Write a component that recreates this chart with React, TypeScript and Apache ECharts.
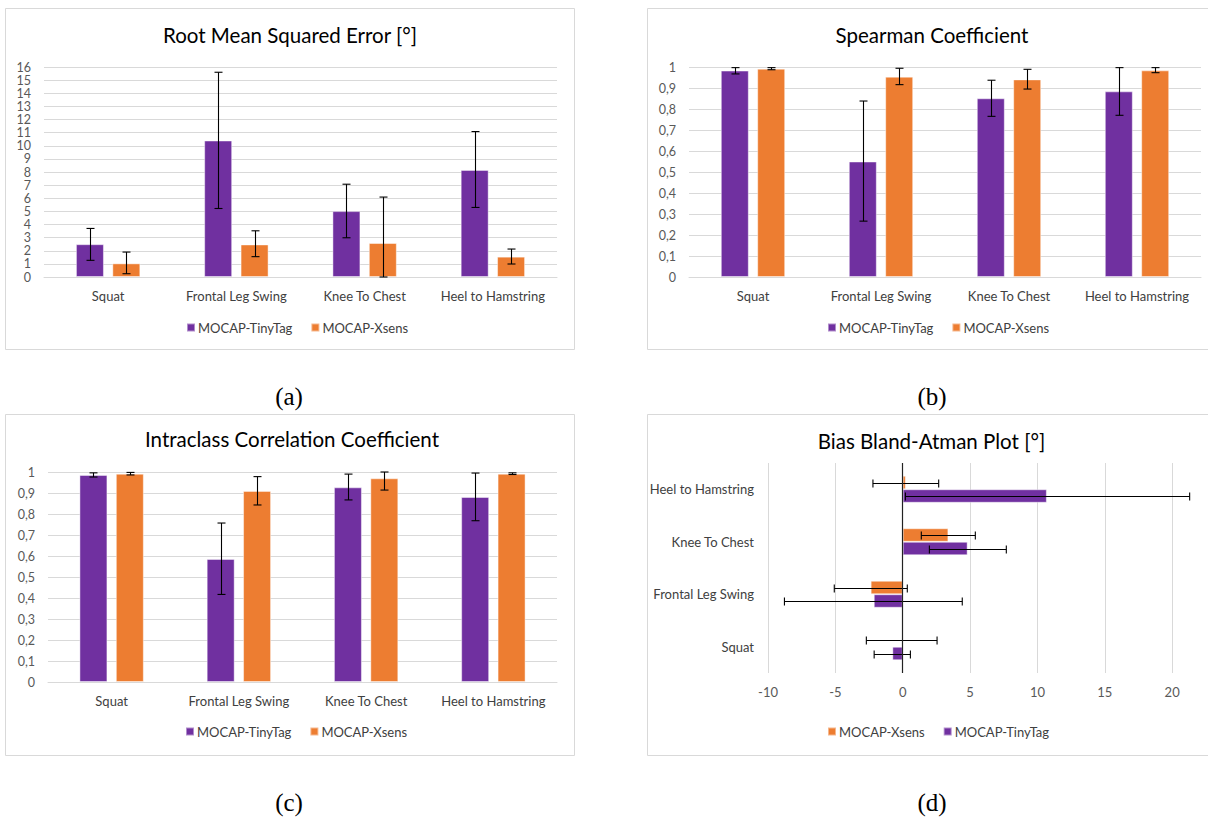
import React, { useEffect, useRef } from "react";
import * as echarts from "echarts";

const CATEGORIES = ["Squat", "Frontal Leg Swing", "Knee To Chest", "Heel to Hamstring"];
const SERIES_TINY = "MOCAP-TinyTag";
const SERIES_XSENS = "MOCAP-Xsens";

// (a) Root Mean Squared Error
const RMSE_TINY = [2.5, 10.4, 5.02, 8.16];
const RMSE_TINY_LOW = [1.27, 5.22, 2.99, 5.3];
const RMSE_TINY_HIGH = [3.7, 15.6, 7.07, 11.08];
const RMSE_XSENS = [1.04, 2.48, 2.59, 1.55];
const RMSE_XSENS_LOW = [0.25, 1.55, 0, 0.99];
const RMSE_XSENS_HIGH = [1.9, 3.52, 6.09, 2.13];

// (b) Spearman Coefficient
const SP_TINY = [0.983, 0.55, 0.851, 0.884];
const SP_TINY_LOW = [0.967, 0.266, 0.765, 0.77];
const SP_TINY_HIGH = [0.997, 0.838, 0.937, 0.997];
const SP_XSENS = [0.992, 0.954, 0.941, 0.984];
const SP_XSENS_LOW = [0.987, 0.916, 0.895, 0.973];
const SP_XSENS_HIGH = [0.997, 0.994, 0.989, 0.997];

// (c) Intraclass Correlation Coefficient
const ICC_TINY = [0.986, 0.586, 0.927, 0.881];
const ICC_TINY_LOW = [0.976, 0.417, 0.867, 0.768];
const ICC_TINY_HIGH = [0.996, 0.757, 0.99, 0.995];
const ICC_XSENS = [0.992, 0.91, 0.97, 0.992];
const ICC_XSENS_LOW = [0.986, 0.843, 0.914, 0.988];
const ICC_XSENS_HIGH = [0.998, 0.978, 1.0, 0.996];

// (d) Bias Bland-Altman
const BA_XSENS = [-0.09, -2.38, 3.39, 0.23];
const BA_XSENS_LOW = [-2.7, -5.08, 1.38, -2.21];
const BA_XSENS_HIGH = [2.55, 0.34, 5.39, 2.67];
const BA_TINY = [-0.77, -2.15, 4.82, 10.7];
const BA_TINY_LOW = [-2.12, -8.78, 1.98, 0.2];
const BA_TINY_HIGH = [0.57, 4.42, 7.69, 21.3];

const TITLES = [
  "Root Mean Squared Error [°]",
  "Spearman Coefficient",
  "Intraclass Correlation Coefficient",
  "Bias Bland-Atman Plot [°]",
];
const CAPTIONS = ["(a)", "(b)", "(c)", "(d)"];

const FONT = 'Lato, "Open Sans", sans-serif';
const SERIF = '"Liberation Serif", "DejaVu Serif", serif';
const PURPLE = "#7030A0";
const ORANGE = "#ED7D31";
const GRID_C = "#D9D9D9";
const LABEL_C = "#595959";
const CAT_C = "#404040";
const BAR_EDGE = "rgba(255,255,255,0.45)";

const BAR_W = 28;
const BAR_OFF = 18.2;
const HBAR_W = 13.5;
const HBAR_OFF = 6.75;

function vErr(idx: number, lows: number[], highs: number[], offset: number) {
  return {
    type: "custom",
    xAxisIndex: idx,
    yAxisIndex: idx,
    z: 10,
    silent: true,
    data: lows.map((l, i) => [i, l, highs[i]]),
    encode: { x: 0, y: [1, 2] },
    renderItem: (_p: any, api: any) => {
      const c = api.value(0);
      const a = api.coord([c, api.value(1)]);
      const b = api.coord([c, api.value(2)]);
      const x = Math.round(a[0] + offset) + 0.5;
      const st = { stroke: "#000", lineWidth: 1.1 };
      return {
        type: "group",
        children: [
          { type: "line", shape: { x1: x, y1: a[1], x2: x, y2: b[1] }, style: st },
          { type: "line", shape: { x1: x - 4, y1: a[1], x2: x + 4, y2: a[1] }, style: st },
          { type: "line", shape: { x1: x - 4, y1: b[1], x2: x + 4, y2: b[1] }, style: st },
        ],
      };
    },
  };
}

function hErr(idx: number, lows: number[], highs: number[], offset: number) {
  return {
    type: "custom",
    xAxisIndex: idx,
    yAxisIndex: idx,
    z: 10,
    silent: true,
    data: lows.map((l, i) => [i, l, highs[i]]),
    encode: { y: 0, x: [1, 2] },
    renderItem: (_p: any, api: any) => {
      const c = api.value(0);
      const a = api.coord([api.value(1), c]);
      const b = api.coord([api.value(2), c]);
      const y = Math.round(a[1] + offset) + 0.5;
      const st = { stroke: "#000", lineWidth: 1.1 };
      return {
        type: "group",
        children: [
          { type: "line", shape: { x1: a[0], y1: y, x2: b[0], y2: y }, style: st },
          { type: "line", shape: { x1: a[0], y1: y - 4, x2: a[0], y2: y + 4 }, style: st },
          { type: "line", shape: { x1: b[0], y1: y - 4, x2: b[0], y2: y + 4 }, style: st },
        ],
      };
    },
  };
}

const commaFmt = (v: number) => String(Math.round(v * 10) / 10).replace(".", ",");

function catX(idx: number) {
  return {
    gridIndex: idx,
    type: "category",
    data: CATEGORIES,
    axisTick: { show: false },
    axisLine: { lineStyle: { color: GRID_C } },
    axisLabel: { color: CAT_C, fontSize: 13, margin: 12, interval: 0, fontFamily: FONT },
  };
}

function valY(idx: number, max: number, interval: number, fmt?: any) {
  return {
    gridIndex: idx,
    type: "value",
    min: 0,
    max,
    interval,
    axisLine: { show: false },
    axisTick: { show: false },
    splitLine: { lineStyle: { color: GRID_C, width: 1 } },
    axisLabel: { color: LABEL_C, fontSize: 12.5, margin: 13, fontFamily: FONT, formatter: fmt },
  };
}

function vBar(idx: number, name: string, data: number[], color: string) {
  return {
    type: "bar",
    name,
    xAxisIndex: idx,
    yAxisIndex: idx,
    data,
    barWidth: BAR_W,
    barGap: "30%",
    itemStyle: { color, borderColor: BAR_EDGE, borderWidth: 1 },
  };
}

function legend(left: number, top: number, data: string[]) {
  return {
    left,
    top,
    padding: 0,
    itemWidth: 8,
    itemHeight: 8,
    itemGap: 18,
    icon: "rect",
    selectedMode: false,
    data,
    textStyle: { color: CAT_C, fontSize: 13, fontFamily: FONT, padding: [0, 0, 0, -2] },
  };
}

export default function App() {
  const ref = useRef<HTMLDivElement>(null);
  useEffect(() => {
    if (!ref.current) return;
    const chart = echarts.init(ref.current, undefined, { renderer: "svg" });
    const boxes = [
      [5.5, 8.5],
      [647.5, 8.5],
      [5.5, 414.5],
      [647.5, 414.5],
    ];
    const titlePos = [
      [290, 35],
      [932, 35],
      [292, 439],
      [931.5, 441],
    ];
    const capPos = [
      [289, 396],
      [932, 396],
      [289, 802],
      [932, 802],
    ];
    const graphic: any[] = [];
    boxes.forEach((b) =>
      graphic.push({
        type: "rect",
        shape: { x: b[0], y: b[1], width: 569, height: 341 },
        style: { fill: "none", stroke: GRID_C, lineWidth: 1 },
        silent: true,
        z: -10,
      })
    );
    TITLES.forEach((t, i) =>
      graphic.push({
        type: "text",
        x: titlePos[i][0],
        y: titlePos[i][1],
        style: {
          text: t,
          align: "center",
          verticalAlign: "middle",
          fontSize: 20.5,
          fontFamily: FONT,
          fill: "#000",
        },
      })
    );
    CAPTIONS.forEach((t, i) =>
      graphic.push({
        type: "text",
        x: capPos[i][0],
        y: capPos[i][1],
        style: {
          text: t,
          align: "center",
          verticalAlign: "middle",
          fontSize: 25,
          fontFamily: SERIF,
          fill: "#000",
        },
      })
    );

    const option: any = {
      animation: false,
      textStyle: { fontFamily: FONT },
      graphic,
      grid: [
        { left: 44, top: 67, width: 513, height: 210 },
        { left: 689, top: 67, width: 512, height: 210 },
        { left: 48, top: 472, width: 509, height: 210 },
        { left: 768, top: 463, width: 471.5, height: 210 },
      ],
      xAxis: [
        catX(0),
        catX(1),
        catX(2),
        {
          gridIndex: 3,
          type: "value",
          min: -10,
          max: 25,
          interval: 5,
          axisLine: { show: false },
          axisTick: { show: false },
          splitLine: { lineStyle: { color: GRID_C, width: 1 } },
          axisLabel: {
            color: LABEL_C,
            fontSize: 13,
            margin: 12,
            fontFamily: FONT,
            showMaxLabel: false,
          },
        },
      ],
      yAxis: [
        valY(0, 16, 1),
        valY(1, 1, 0.1, commaFmt),
        valY(2, 1, 0.1, commaFmt),
        {
          gridIndex: 3,
          type: "category",
          data: CATEGORIES,
          axisTick: { show: false },
          axisLine: { show: false },
          axisLabel: { color: CAT_C, fontSize: 13, margin: 14, interval: 0, fontFamily: FONT },
        },
      ],
      legend: [
        legend(186, 321, [SERIES_TINY, SERIES_XSENS]),
        legend(827, 321, [SERIES_TINY, SERIES_XSENS]),
        legend(185, 725, [SERIES_TINY, SERIES_XSENS]),
        legend(827, 725, [SERIES_XSENS, SERIES_TINY]),
      ],
      series: [
        vBar(0, SERIES_TINY, RMSE_TINY, PURPLE),
        vBar(0, SERIES_XSENS, RMSE_XSENS, ORANGE),
        vErr(0, RMSE_TINY_LOW, RMSE_TINY_HIGH, -BAR_OFF),
        vErr(0, RMSE_XSENS_LOW, RMSE_XSENS_HIGH, BAR_OFF),

        vBar(1, SERIES_TINY, SP_TINY, PURPLE),
        vBar(1, SERIES_XSENS, SP_XSENS, ORANGE),
        vErr(1, SP_TINY_LOW, SP_TINY_HIGH, -BAR_OFF),
        vErr(1, SP_XSENS_LOW, SP_XSENS_HIGH, BAR_OFF),

        vBar(2, SERIES_TINY, ICC_TINY, PURPLE),
        vBar(2, SERIES_XSENS, ICC_XSENS, ORANGE),
        vErr(2, ICC_TINY_LOW, ICC_TINY_HIGH, -BAR_OFF),
        vErr(2, ICC_XSENS_LOW, ICC_XSENS_HIGH, BAR_OFF),

        {
          type: "bar",
          name: SERIES_XSENS,
          xAxisIndex: 3,
          yAxisIndex: 3,
          data: BA_XSENS,
          barWidth: HBAR_W,
          barGap: "0%",
          itemStyle: { color: ORANGE, borderColor: BAR_EDGE, borderWidth: 1 },
          markLine: {
            silent: true,
            symbol: "none",
            label: { show: false },
            lineStyle: { color: "#222", type: "solid", width: 1.2 },
            data: [{ xAxis: 0 }],
            z: 12,
          },
        },
        {
          type: "bar",
          name: SERIES_TINY,
          xAxisIndex: 3,
          yAxisIndex: 3,
          data: BA_TINY,
          barWidth: HBAR_W,
          barGap: "0%",
          itemStyle: { color: PURPLE, borderColor: BAR_EDGE, borderWidth: 1 },
        },
        hErr(3, BA_XSENS_LOW, BA_XSENS_HIGH, -HBAR_OFF),
        hErr(3, BA_TINY_LOW, BA_TINY_HIGH, HBAR_OFF),
      ],
    };
    chart.setOption(option);
    return () => chart.dispose();
  }, []);
  return (
    <div
      style={{
        position: "fixed",
        left: 0,
        top: 0,
        width: 1208,
        height: 818,
        overflow: "hidden",
        background: "#fff",
      }}
    >
      <div ref={ref} style={{ width: 1260, height: 818 }} />
    </div>
  );
}
